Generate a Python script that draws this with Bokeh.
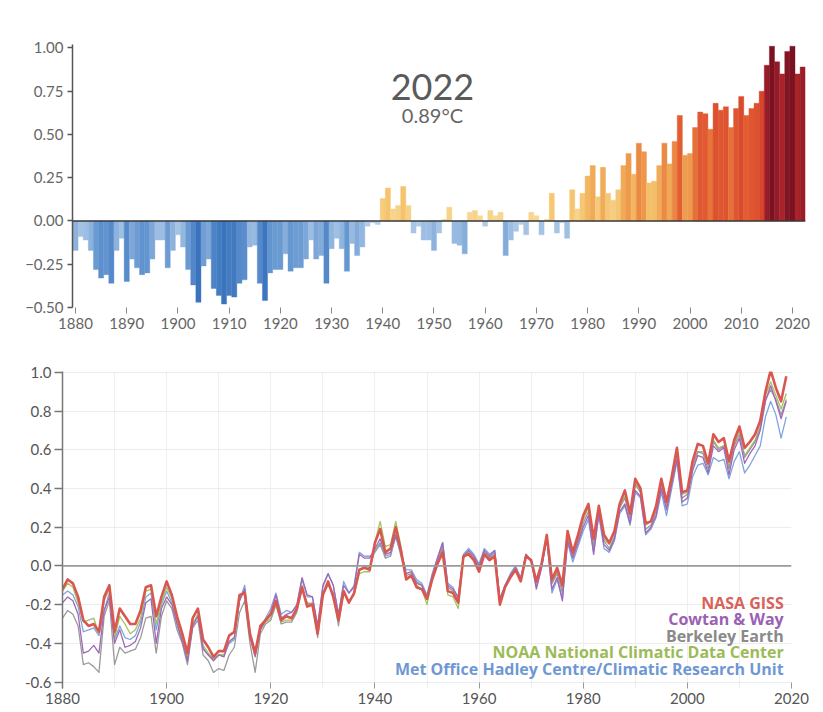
from bokeh.plotting import figure
from bokeh.models import Range1d, Span, Label, FixedTicker, CustomJSTickFormatter, ColumnDataSource
from bokeh.embed import file_html
from bokeh.resources import INLINE

# ---------------- data ----------------
bar_years = list(range(1880, 2023))
bar_values = [
    -0.17, -0.09, -0.11, -0.17, -0.28, -0.33, -0.31, -0.36, -0.17, -0.10,
    -0.35, -0.22, -0.27, -0.31, -0.30, -0.22, -0.11, -0.11, -0.27, -0.17,
    -0.08, -0.15, -0.28, -0.37, -0.47, -0.26, -0.22, -0.39, -0.43, -0.48,
    -0.43, -0.44, -0.36, -0.34, -0.15, -0.14, -0.36, -0.46, -0.30, -0.28,
    -0.28, -0.19, -0.29, -0.27, -0.27, -0.22, -0.11, -0.22, -0.20, -0.36,
    -0.16, -0.10, -0.16, -0.29, -0.13, -0.20, -0.15, -0.03, -0.01, -0.02,
    0.13, 0.19, 0.07, 0.09, 0.20, 0.09, -0.07, -0.03, -0.11, -0.11,
    -0.17, -0.07, 0.01, 0.08, -0.13, -0.14, -0.19, 0.05, 0.06, 0.03,
    -0.03, 0.06, 0.03, 0.05, -0.20, -0.11, -0.06, -0.02, -0.08, 0.05,
    0.03, -0.08, 0.01, 0.16, -0.07, -0.01, -0.10, 0.18, 0.07, 0.16,
    0.26, 0.32, 0.14, 0.31, 0.16, 0.12, 0.18, 0.32, 0.39, 0.27,
    0.45, 0.40, 0.22, 0.23, 0.32, 0.45, 0.33, 0.46, 0.61, 0.38,
    0.39, 0.54, 0.63, 0.62, 0.53, 0.68, 0.64, 0.66, 0.54, 0.65,
    0.72, 0.61, 0.65, 0.68, 0.75, 0.90, 1.01, 0.92, 0.85, 0.98,
    1.01, 0.85, 0.89,
]
bar_ticks = list(range(1880, 2021, 10))
bar_yticks = [-0.5, -0.25, 0.0, 0.25, 0.5, 0.75, 1.0]
headline_year = "2022"
headline_value = "0.89°C"

line_years = list(range(1880, 2020))
nasa_giss = [
    -0.12, -0.07, -0.09, -0.16, -0.28, -0.31, -0.30, -0.34, -0.16, -0.10,
    -0.34, -0.22, -0.26, -0.30, -0.30, -0.23, -0.11, -0.10, -0.26, -0.16,
    -0.08, -0.15, -0.26, -0.35, -0.45, -0.27, -0.22, -0.38, -0.42, -0.47,
    -0.44, -0.44, -0.36, -0.34, -0.15, -0.14, -0.35, -0.45, -0.31, -0.28,
    -0.25, -0.18, -0.28, -0.26, -0.27, -0.22, -0.11, -0.21, -0.20, -0.35,
    -0.15, -0.08, -0.16, -0.28, -0.13, -0.19, -0.14, -0.02, -0.01, -0.02,
    0.12, 0.19, 0.07, 0.09, 0.20, 0.08, -0.07, -0.05, -0.11, -0.12,
    -0.17, -0.07, 0.01, 0.07, -0.13, -0.14, -0.19, 0.05, 0.06, 0.03,
    -0.03, 0.06, 0.03, 0.05, -0.20, -0.11, -0.06, -0.02, -0.08, 0.05,
    0.03, -0.08, 0.01, 0.16, -0.07, -0.01, -0.10, 0.18, 0.07, 0.16,
    0.26, 0.32, 0.14, 0.31, 0.16, 0.12, 0.18, 0.32, 0.39, 0.27,
    0.45, 0.40, 0.22, 0.23, 0.31, 0.45, 0.33, 0.46, 0.61, 0.38,
    0.39, 0.54, 0.63, 0.62, 0.53, 0.68, 0.64, 0.66, 0.54, 0.65,
    0.72, 0.61, 0.64, 0.68, 0.75, 0.90, 1.01, 0.92, 0.85, 0.98,
]
cowtan_way = [
    -0.19, -0.16, -0.18, -0.25, -0.45, -0.44, -0.41, -0.45, -0.23, -0.16,
    -0.40, -0.33, -0.42, -0.41, -0.39, -0.32, -0.19, -0.17, -0.40, -0.22,
    -0.16, -0.20, -0.30, -0.39, -0.49, -0.31, -0.26, -0.43, -0.46, -0.49,
    -0.46, -0.47, -0.39, -0.37, -0.18, -0.12, -0.37, -0.47, -0.33, -0.28,
    -0.24, -0.15, -0.27, -0.25, -0.24, -0.20, -0.06, -0.15, -0.16, -0.31,
    -0.10, -0.04, -0.10, -0.25, -0.10, -0.14, -0.11, 0.06, 0.04, 0.04,
    0.09, 0.14, 0.06, 0.07, 0.16, 0.07, -0.04, -0.03, -0.09, -0.10,
    -0.16, -0.05, 0.04, 0.12, -0.10, -0.12, -0.16, 0.05, 0.08, 0.05,
    0.00, 0.08, 0.05, 0.08, -0.17, -0.10, -0.05, -0.01, -0.07, 0.06,
    0.03, -0.12, -0.01, 0.14, -0.12, -0.06, -0.18, 0.13, 0.04, 0.12,
    0.20, 0.26, 0.06, 0.27, 0.11, 0.08, 0.14, 0.28, 0.32, 0.22,
    0.39, 0.36, 0.17, 0.20, 0.26, 0.40, 0.29, 0.42, 0.55, 0.33,
    0.35, 0.49, 0.57, 0.56, 0.48, 0.62, 0.59, 0.61, 0.47, 0.60,
    0.66, 0.53, 0.58, 0.62, 0.70, 0.85, 0.93, 0.85, 0.76, 0.85,
]
berkeley_earth = [
    -0.27, -0.23, -0.25, -0.31, -0.51, -0.50, -0.52, -0.55, -0.26, -0.18,
    -0.51, -0.42, -0.45, -0.44, -0.43, -0.37, -0.27, -0.26, -0.45, -0.26,
    -0.18, -0.22, -0.33, -0.40, -0.51, -0.32, -0.28, -0.46, -0.49, -0.55,
    -0.53, -0.54, -0.46, -0.42, -0.24, -0.18, -0.40, -0.55, -0.35, -0.30,
    -0.28, -0.20, -0.30, -0.29, -0.29, -0.24, -0.12, -0.19, -0.20, -0.37,
    -0.15, -0.10, -0.14, -0.31, -0.13, -0.19, -0.14, -0.02, 0.00, -0.01,
    0.08, 0.12, 0.04, 0.05, 0.16, 0.05, -0.05, -0.04, -0.08, -0.10,
    -0.17, -0.06, 0.02, 0.10, -0.11, -0.13, -0.18, 0.05, 0.07, 0.04,
    -0.01, 0.07, 0.04, 0.07, -0.18, -0.10, -0.05, -0.01, -0.07, 0.06,
    0.03, -0.10, 0.00, 0.15, -0.09, -0.04, -0.14, 0.15, 0.05, 0.13,
    0.22, 0.28, 0.10, 0.29, 0.13, 0.09, 0.15, 0.30, 0.35, 0.24,
    0.42, 0.38, 0.19, 0.21, 0.28, 0.42, 0.31, 0.44, 0.58, 0.35,
    0.37, 0.51, 0.59, 0.58, 0.50, 0.64, 0.60, 0.62, 0.50, 0.62,
    0.68, 0.56, 0.60, 0.64, 0.71, 0.86, 0.91, 0.86, 0.78, 0.86,
]
noaa_ncdc = [
    -0.13, -0.09, -0.11, -0.19, -0.29, -0.28, -0.27, -0.35, -0.18, -0.12,
    -0.37, -0.26, -0.30, -0.35, -0.33, -0.27, -0.13, -0.12, -0.30, -0.19,
    -0.11, -0.17, -0.28, -0.38, -0.48, -0.30, -0.25, -0.41, -0.45, -0.48,
    -0.46, -0.46, -0.39, -0.37, -0.17, -0.13, -0.36, -0.44, -0.33, -0.29,
    -0.27, -0.20, -0.29, -0.28, -0.28, -0.23, -0.10, -0.20, -0.19, -0.33,
    -0.14, -0.09, -0.14, -0.28, -0.14, -0.18, -0.15, -0.04, -0.03, -0.03,
    0.12, 0.23, 0.10, 0.11, 0.23, 0.10, -0.06, -0.05, -0.10, -0.12,
    -0.20, -0.07, 0.03, 0.09, -0.15, -0.16, -0.22, 0.04, 0.07, 0.04,
    -0.02, 0.07, 0.04, 0.06, -0.19, -0.11, -0.06, -0.02, -0.07, 0.05,
    0.03, -0.09, 0.01, 0.15, -0.09, -0.03, -0.12, 0.17, 0.06, 0.14,
    0.24, 0.30, 0.12, 0.30, 0.14, 0.11, 0.17, 0.31, 0.36, 0.25,
    0.43, 0.39, 0.21, 0.23, 0.30, 0.44, 0.33, 0.47, 0.59, 0.37,
    0.38, 0.52, 0.59, 0.59, 0.52, 0.65, 0.61, 0.62, 0.51, 0.63,
    0.70, 0.57, 0.61, 0.65, 0.72, 0.88, 0.95, 0.88, 0.81, 0.89,
]
hadcrut = [
    -0.15, -0.13, -0.15, -0.21, -0.34, -0.33, -0.32, -0.36, -0.23, -0.14,
    -0.38, -0.31, -0.37, -0.38, -0.36, -0.29, -0.16, -0.14, -0.33, -0.20,
    -0.13, -0.19, -0.30, -0.39, -0.48, -0.31, -0.25, -0.42, -0.46, -0.48,
    -0.46, -0.46, -0.40, -0.38, -0.18, -0.10, -0.35, -0.44, -0.32, -0.27,
    -0.22, -0.14, -0.25, -0.23, -0.24, -0.21, -0.07, -0.16, -0.16, -0.31,
    -0.11, -0.04, -0.10, -0.25, -0.08, -0.14, -0.10, 0.07, 0.05, 0.05,
    0.07, 0.11, 0.05, 0.06, 0.15, 0.06, -0.02, -0.02, -0.07, -0.09,
    -0.15, -0.04, 0.04, 0.12, -0.09, -0.11, -0.17, 0.06, 0.09, 0.06,
    0.01, 0.09, 0.06, 0.08, -0.17, -0.10, -0.04, 0.00, -0.06, 0.06,
    0.02, -0.11, -0.01, 0.14, -0.14, -0.07, -0.17, 0.12, 0.02, 0.10,
    0.18, 0.24, 0.07, 0.26, 0.09, 0.07, 0.13, 0.27, 0.31, 0.21,
    0.38, 0.35, 0.16, 0.19, 0.25, 0.38, 0.26, 0.40, 0.54, 0.31,
    0.32, 0.46, 0.52, 0.53, 0.47, 0.56, 0.54, 0.55, 0.45, 0.54,
    0.59, 0.48, 0.52, 0.57, 0.62, 0.77, 0.85, 0.78, 0.66, 0.77,
]
line_xticks = list(range(1880, 2021, 20))
line_yticks = [-0.6, -0.4, -0.2, 0.0, 0.2, 0.4, 0.6, 0.8, 1.0]
series_names = ["NASA GISS", "Cowtan & Way", "Berkeley Earth",
                "NOAA National Climatic Data Center",
                "Met Office Hadley Centre/Climatic Research Unit"]

# ---------------- styling helpers ----------------
FONT = "Lato"
neg_stops = [(0.0, "#b9d1ea"), (0.15, "#93b7df"), (0.30, "#6395d0"), (0.47, "#3b74be")]
pos_stops = [(0.0, "#f8dc9c"), (0.2, "#f5c36c"), (0.35, "#f0a453"), (0.5, "#e97d3c"),
             (0.62, "#e15a31"), (0.76, "#d6452b"), (0.86, "#a3202a"), (1.01, "#7a1222")]


def _interp(stops, a):
    if a <= stops[0][0]:
        return stops[0][1]
    for (v0, c0), (v1, c1) in zip(stops[:-1], stops[1:]):
        if a <= v1:
            t = (a - v0) / (v1 - v0)
            r0, g0, b0 = int(c0[1:3], 16), int(c0[3:5], 16), int(c0[5:7], 16)
            r1, g1, b1 = int(c1[1:3], 16), int(c1[3:5], 16), int(c1[5:7], 16)
            return "#%02x%02x%02x" % (round(r0 + (r1 - r0) * t), round(g0 + (g1 - g0) * t),
                                      round(b0 + (b1 - b0) * t))
    return stops[-1][1]


bar_colors = [_interp(pos_stops, v) if v >= 0 else _interp(neg_stops, -v) for v in bar_values]

# ---------------- top: bar chart ----------------
p1 = figure(width=823, height=336, x_range=Range1d(1879.41, 2022.55), y_range=Range1d(-0.5, 1.02),
            output_backend="svg", toolbar_location=None,
            min_border_left=72, min_border_right=18, min_border_top=44, min_border_bottom=29)
p1.outline_line_color = None
p1.grid.visible = False
src = ColumnDataSource(dict(year=bar_years, value=bar_values, color=bar_colors))
p1.vbar(x="year", top="value", bottom=0, width=1.0, fill_color="color", line_color="color",
        line_width=0.4, source=src)
p1.add_layout(Span(location=0, dimension="width", line_color="#3a3a3a", line_width=1.6))

p1.yaxis.ticker = FixedTicker(ticks=bar_yticks)
p1.yaxis.formatter = CustomJSTickFormatter(code="return tick.toFixed(2).replace('-', '\u2212');")
p1.yaxis.axis_line_color = "#555555"
p1.yaxis.axis_line_width = 1.5
p1.yaxis.major_tick_line_color = "#555555"
p1.yaxis.major_tick_line_width = 1.5
p1.yaxis.major_tick_out = 5
p1.yaxis.major_tick_in = 0
p1.yaxis.minor_tick_line_color = None
p1.yaxis.major_label_standoff = 4
p1.yaxis.major_label_text_font = FONT
p1.yaxis.major_label_text_font_size = "15px"
p1.yaxis.major_label_text_color = "#666666"

p1.xaxis.ticker = FixedTicker(ticks=bar_ticks)
p1.xaxis.axis_line_color = None
p1.xaxis.major_tick_line_color = "#888888"
p1.xaxis.major_tick_out = 6
p1.xaxis.major_tick_in = 0
p1.xaxis.minor_tick_line_color = None
p1.xaxis.major_label_standoff = 4
p1.xaxis.major_label_text_font = FONT
p1.xaxis.major_label_text_font_size = "15px"
p1.xaxis.major_label_text_color = "#666666"

p1.add_layout(Label(x=1949.7, y=0.775, text=headline_year, text_align="center",
                    text_baseline="middle", text_font=FONT, text_font_size="36px",
                    text_color="#5a5a5a"))
p1.add_layout(Label(x=1949.7, y=0.612, text=headline_value, text_align="center",
                    text_baseline="middle", text_font=FONT, text_font_size="20px",
                    text_color="#666666"))

# ---------------- bottom: line chart ----------------
p2 = figure(width=823, height=374, x_range=Range1d(1880, 2020), y_range=Range1d(-0.633, 1.004),
            output_backend="svg", toolbar_location=None,
            min_border_left=62, min_border_right=32, min_border_top=35, min_border_bottom=22)
p2.outline_line_color = None
p2.xgrid.ticker = FixedTicker(ticks=list(range(1880, 2021, 10)))
p2.xgrid.grid_line_color = "#efefef"
p2.ygrid.ticker = FixedTicker(ticks=line_yticks)
p2.ygrid.grid_line_color = "#ececec"
p2.add_layout(Span(location=0, dimension="width", line_color="#9a9a9a", line_width=1.8))

series = [
    (hadcrut, "#7ea5dc", 1.3),
    (noaa_ncdc, "#a3c35f", 1.3),
    (berkeley_earth, "#9a9a9a", 1.3),
    (cowtan_way, "#a067b8", 1.3),
    (nasa_giss, "#d9574f", 2.6),
]
for vals, col, lw in series:
    p2.line(line_years, vals, line_color=col, line_width=lw, line_join="round")

p2.yaxis.ticker = FixedTicker(ticks=line_yticks)
p2.yaxis.formatter = CustomJSTickFormatter(code="return tick.toFixed(1);")
p2.yaxis.axis_line_color = "#777777"
p2.yaxis.axis_line_width = 1.5
p2.yaxis.major_tick_line_color = "#777777"
p2.yaxis.major_tick_line_width = 1.5
p2.yaxis.major_tick_out = 8
p2.yaxis.major_tick_in = 0
p2.yaxis.minor_tick_line_color = None
p2.yaxis.major_label_standoff = 3
p2.yaxis.major_label_text_font = FONT
p2.yaxis.major_label_text_font_size = "15px"
p2.yaxis.major_label_text_color = "#555555"

p2.xaxis.ticker = FixedTicker(ticks=line_xticks)
p2.xaxis.axis_line_color = None
p2.xaxis.major_tick_line_color = "#999999"
p2.xaxis.major_tick_out = 0
p2.xaxis.major_tick_in = 6
p2.xaxis.minor_tick_line_color = None
p2.xaxis.major_label_standoff = 4
p2.xaxis.major_label_text_font = FONT
p2.xaxis.major_label_text_font_size = "15px"
p2.xaxis.major_label_text_color = "#555555"

legend_colors = ["#d8625a", "#9b5fb4", "#8a8a8a", "#9cbb57", "#6f98d2"]
legend_y = [-0.19, -0.275, -0.361, -0.447, -0.533]
for name, col, yy in zip(series_names, legend_colors, legend_y):
    p2.add_layout(Label(x=2018.5, y=yy, text=name, text_align="right", text_baseline="middle",
                        text_font="Open Sans", text_font_size="16px", text_font_style="bold",
                        text_color=col))

open("out.html", "w").write(file_html([p1, p2], INLINE))
